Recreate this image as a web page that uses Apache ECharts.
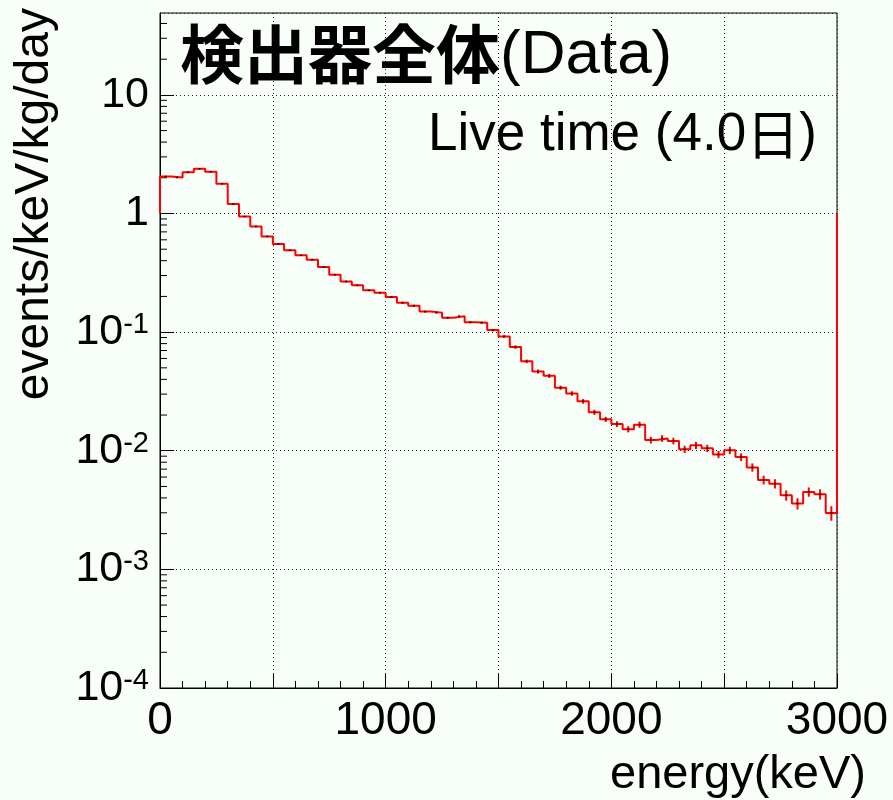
<!DOCTYPE html>
<html>
<head>
<meta charset="utf-8">
<script src="https://cdn.jsdelivr.net/npm/echarts@6/dist/echarts.min.js"></script>
<style>
html,body{margin:0;padding:0;background:#f8fff8;}
#chart{width:893px;height:800px;}
</style>
</head>
<body>
<div id="chart"></div>
<script>
// Histogram: 60 bins of 50 keV from 0 to 3000 keV
const binWidth = 50;
const rates = [
  2.05, 2.01, 2.23, 2.38, 2.25, 1.78, 1.20, 0.944, 0.778, 0.641,
  0.553, 0.489, 0.444, 0.408, 0.354, 0.305, 0.267, 0.248, 0.225, 0.215,
  0.198, 0.177, 0.167, 0.149, 0.146, 0.132, 0.136, 0.121, 0.120, 0.104,
  0.0919, 0.0748, 0.0567, 0.0465, 0.0428, 0.0340, 0.0304, 0.0261, 0.0211, 0.0184,
  0.0168, 0.0152, 0.0166, 0.0123, 0.0127, 0.0121, 0.0103, 0.0111, 0.0105, 0.00931,
  0.0101, 0.00885, 0.00724, 0.00568, 0.00528, 0.00421, 0.00359, 0.00450, 0.00430, 0.00299
];
// relative statistical errors
const relErrors = [
  0.012, 0.012, 0.012, 0.012, 0.012, 0.012, 0.012, 0.012, 0.012, 0.012,
  0.012, 0.012, 0.012, 0.012, 0.012, 0.015, 0.015, 0.015, 0.015, 0.015,
  0.02, 0.02, 0.02, 0.02, 0.02, 0.02, 0.02, 0.02, 0.02, 0.025,
  0.025, 0.035, 0.035, 0.04, 0.04, 0.04, 0.045, 0.045, 0.05, 0.05,
  0.055, 0.06, 0.06, 0.065, 0.065, 0.065, 0.07, 0.07, 0.07, 0.07,
  0.07, 0.075, 0.08, 0.085, 0.09, 0.10, 0.11, 0.09, 0.10, 0.14
];
const xTickLabels = ['0', '1000', '2000', '3000'];
const titleCJK = '検出器全体';
const titleLatin = '(Data)';
const liveTimeText = 'Live time (4.0';
const liveTimeUnit = '日';
const liveTimeClose = ')';
const xName = 'energy(keV)';
const yName = 'events/keV/kg/day';
const xMin = 0, xMax = 3000;
const yMin = 1e-4, yMax = 49;
const yBaseline = 1; // level where ROOT starts/ends the outline

// build step outline
const outline = [[xMin, yBaseline]];
rates.forEach((v, i) => {
  outline.push([i * binWidth, v]);
  outline.push([(i + 1) * binWidth, v]);
});
outline.push([xMax, yBaseline]);

const errData = rates.map((v, i) => [i * binWidth + binWidth / 2, v, v * (1 - relErrors[i]), v * (1 + relErrors[i])]);
const markerData = rates.map((v, i) => [i * binWidth + binWidth / 2, v]);

// minor ticks for the log axis
const yMinorTicks = [];
for (let e = -4; e <= 1; e++) {
  for (let m = 2; m <= 9; m++) {
    const val = m * Math.pow(10, e);
    if (val < yMax) yMinorTicks.push(val);
  }
}

const FONT = '"Liberation Sans", Arial, sans-serif';
const CJK = '"Noto Sans CJK JP", "Noto Sans CJK SC", sans-serif';

const chart = echarts.init(document.getElementById('chart'), null, {renderer: 'canvas'});
chart.setOption({
  animation: false,
  backgroundColor: '#f8fff8',
  grid: {left: 160, right: 56, top: 13, bottom: 112, show: true, borderColor: '#000', borderWidth: 1, backgroundColor: 'transparent'},
  xAxis: {
    type: 'value', min: xMin, max: xMax, interval: 500,
    axisLine: {show: true, lineStyle: {color: '#000', width: 1}},
    axisTick: {show: true, inside: true, length: 14, lineStyle: {color: '#000', width: 1}},
    minorTick: {show: true, splitNumber: 5, length: 7, lineStyle: {color: '#000', width: 1}},
    splitLine: {show: true, lineStyle: {color: '#222', width: 1, type: [1, 3]}},
    axisLabel: {
      fontSize: 46, color: '#000', fontFamily: FONT, margin: 10,
      formatter: v => (xTickLabels.indexOf(String(v)) >= 0 ? String(v) : '')
    }
  },
  yAxis: {
    type: 'log', logBase: 10, min: yMin, max: yMax,
    axisLine: {show: true, lineStyle: {color: '#000', width: 1}},
    axisTick: {show: true, inside: true, length: 14, lineStyle: {color: '#000', width: 1}},
    splitLine: {show: true, lineStyle: {color: '#222', width: 1, type: [1, 3]}},
    axisLabel: {
      margin: 11, color: '#000', showMaxLabel: false,
      formatter: function (v) {
        const l = Math.log10(v);
        const e = Math.round(l);
        if (Math.abs(l - e) > 1e-6) return '';
        if (e === 0) return '{b|1}';
        if (e === 1) return '{b|10}';
        return '{b|10}{s|' + e + '}';
      },
      rich: {
        b: {fontSize: 43, fontFamily: FONT, color: '#000'},
        s: {fontSize: 29, fontFamily: FONT, color: '#000', verticalAlign: 'top'}
      }
    }
  },
  series: [
    {
      type: 'custom', coordinateSystem: 'cartesian2d', silent: true, z: 1,
      data: [[xMin, yBaseline]],
      renderItem: function (params, api) {
        return {
          type: 'group',
          children: yMinorTicks.map(v => {
            const p = api.coord([xMin, v]);
            return {type: 'line', shape: {x1: p[0], y1: p[1], x2: p[0] + 7, y2: p[1]}, style: {stroke: '#000', lineWidth: 1}};
          })
        };
      }
    },
    {
      type: 'line', data: outline, showSymbol: false, symbol: 'none', clip: false, z: 5,
      lineStyle: {color: '#ff0000', width: 2}, silent: true
    },
    {
      type: 'custom', coordinateSystem: 'cartesian2d', silent: true, z: 6,
      data: errData, encode: {x: 0, y: 1},
      renderItem: function (params, api) {
        const lo = api.coord([api.value(0), api.value(2)]);
        const hi = api.coord([api.value(0), api.value(3)]);
        return {type: 'line', shape: {x1: lo[0], y1: lo[1], x2: hi[0], y2: hi[1]}, style: {stroke: '#ff0000', lineWidth: 2}};
      }
    },
    {
      type: 'scatter', data: markerData, symbol: 'rect', symbolSize: [2, 1.5], z: 7, silent: true,
      itemStyle: {color: '#000'}
    }
  ],
  graphic: [
    {
      type: 'text', x: 180, y: 54, z: 10,
      style: {
        text: '{c|' + titleCJK + '}{l|' + titleLatin + '}',
        align: 'left', verticalAlign: 'middle',
        rich: {
          c: {fontSize: 64, fontFamily: CJK, fontWeight: 'bold', fill: '#000'},
          l: {fontSize: 62, fontFamily: FONT, fill: '#000', padding: [4, 0, 0, 0]}
        }
      }
    },
    {
      type: 'text', x: 428, y: 135, z: 10,
      style: {
        text: '{l|' + liveTimeText + '}{c|' + liveTimeUnit + '}{l|' + liveTimeClose + '}',
        align: 'left', verticalAlign: 'middle',
        rich: {
          l: {fontSize: 53, fontFamily: FONT, fill: '#000'},
          c: {fontSize: 53, fontFamily: CJK, fill: '#000'}
        }
      }
    },
    {
      type: 'text', x: 866, y: 775, z: 10,
      style: {text: xName, fontSize: 47, fontFamily: FONT, fill: '#000', align: 'right', verticalAlign: 'middle'}
    },
    {
      type: 'text', x: 35, y: 8, rotation: Math.PI / 2, z: 10,
      style: {text: yName, fontSize: 48, fontFamily: FONT, fill: '#000', align: 'right', verticalAlign: 'middle'}
    }
  ]
});
</script>
</body>
</html>
